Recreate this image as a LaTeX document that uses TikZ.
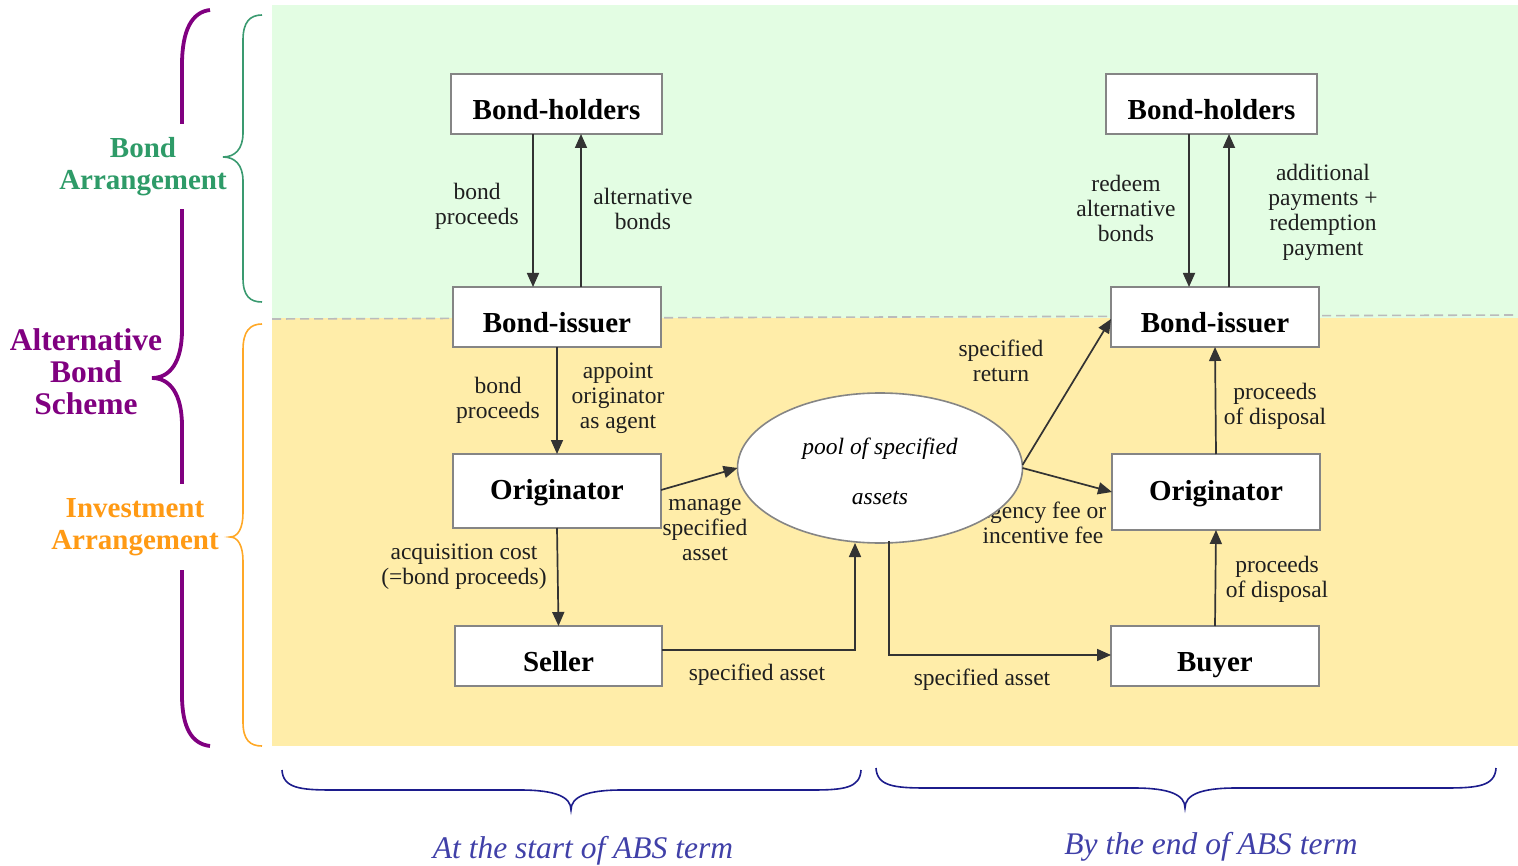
\documentclass[tikz,border=0pt]{standalone}
\usepackage{fontspec}
\setmainfont{Liberation Serif}
\usetikzlibrary{shapes.geometric,arrows.meta,calc}
\definecolor{bggreen}{HTML}{E3FDE3}
\definecolor{bgyellow}{HTML}{FFEDA9}
\definecolor{boxgray}{HTML}{858585}
\definecolor{arrgray}{HTML}{333333}
\definecolor{txtgreen}{HTML}{2E9B68}
\definecolor{bracegreen}{HTML}{3A9A70}
\definecolor{txtorange}{HTML}{FF9A14}
\definecolor{braceorange}{HTML}{FFA826}
\definecolor{purp}{HTML}{800080}
\definecolor{navy}{HTML}{1C1C8C}
\definecolor{txtblue}{HTML}{4040A8}
\definecolor{dashgray}{HTML}{BBBBBB}
\tikzset{
  box/.style={draw=boxgray, line width=1.6pt, fill=white, font=\fontsize{29}{32}\selectfont\bfseries, inner sep=0pt, outer sep=0pt, text=black, text height=31pt, text depth=0pt},
  tallbox/.style={box, text height=20pt, text depth=3pt},
  lbl/.style={font=\fontsize{23.5}{25}\selectfont, align=center, inner sep=0pt, text=black!88, yshift=-2.5pt},
  arr/.style={draw=arrgray, line width=1.7pt, -{Triangle[length=14pt,width=12pt]}},
  sidelbl/.style={font=\fontsize{29}{32}\selectfont\bfseries, align=center, inner sep=0pt},
  bottomlbl/.style={font=\fontsize{31.5}{34}\selectfont\itshape, text=txtblue, inner sep=0pt},
}
\begin{document}
\begin{tikzpicture}[x=1pt,y=-1pt]
\useasboundingbox (0,0) rectangle (1518,866);
% backgrounds
\fill[bggreen] (272,5) rectangle (1518,318);
\fill[bgyellow] (272,318) rectangle (1518,746);
\draw[dashgray, line width=1.6pt, dash pattern=on 9pt off 5pt] (272,319) -- (1518,315);

% purple brace (behind white label boxes)
\draw[purp, line width=3.8pt] (210,10) .. controls (192,12) and (182,30) .. (182,65) -- (182,330)
  .. controls (182,362) and (170,378) .. (152,378)
  .. controls (170,378) and (182,394) .. (182,426) -- (182,695)
  .. controls (182,728) and (192,744) .. (210,746);
\node[sidelbl, text=txtgreen, fill=white, inner ysep=13pt, inner xsep=6pt] (bondarr) at (143,166.5) {Bond\\Arrangement};
\node[sidelbl, text=txtorange, fill=white, inner ysep=14pt, inner xsep=6pt] (invarr) at (135,527) {Investment\\Arrangement};
\node[sidelbl, text=purp, font=\fontsize{31.5}{32}\selectfont\bfseries] (altbond) at (86,372) {Alternative\\Bond\\Scheme};

% green brace
\draw[bracegreen, line width=1.6pt] (262,15) .. controls (250,15) and (243,22) .. (243,40) -- (243,133)
  .. controls (243,149) and (235,157) .. (223,157)
  .. controls (235,157) and (243,165) .. (243,181) -- (243,278)
  .. controls (243,296) and (250,302) .. (262,302);
% orange brace
\draw[braceorange, line width=1.6pt] (262,324) .. controls (250,324) and (243,331) .. (243,350) -- (243,513)
  .. controls (243,528) and (238,537) .. (230,537)
  .. controls (238,537) and (243,546) .. (243,561) -- (243,722)
  .. controls (243,740) and (250,746) .. (262,746);

% bottom braces
\draw[navy, line width=1.6pt] (282,770) .. controls (283,788) and (300,790) .. (332,790) -- (520,790)
  .. controls (556,790) and (571,797) .. (571,810)
  .. controls (571,797) and (586,790) .. (622,790) -- (812,790)
  .. controls (844,790) and (860,788) .. (861,770);
\draw[navy, line width=1.6pt] (876,768) .. controls (877,786) and (894,788) .. (926,788) -- (1134,788)
  .. controls (1170,788) and (1185,795) .. (1185,808)
  .. controls (1185,795) and (1200,788) .. (1236,788) -- (1446,788)
  .. controls (1478,788) and (1495,786) .. (1496,768);
\node[bottomlbl] (startlbl) at (583,851) {At the start of ABS term};
\node[bottomlbl] (endlbl) at (1211,847) {By the end of ABS term};

% edge labels
\node[lbl] (l1) at (477,204) {bond\\proceeds};
\node[lbl] (l2) at (643,206) {alternative\\bonds};
\node[lbl] (l3) at (498,398) {bond\\proceeds};
\node[lbl] (l4) at (618,396) {appoint\\originator\\as agent};
\node[lbl] (l5) at (464,564) {acquisition cost\\(=bond proceeds)};
\node[lbl] (l6) at (705,527) {manage\\specified\\asset};
\node[lbl] (l7) at (757,672) {specified asset};
\node[lbl] (l8) at (982,677) {specified asset};
\node[lbl] (l9) at (1001,358) {specified\\return};
\node[lbl] (l10) at (1043,520) {agency fee or\\incentive fee};
\node[lbl] (l11) at (1275,404) {proceeds\\of disposal};
\node[lbl] (l12) at (1277,577) {proceeds\\of disposal};
\node[lbl] (l13) at (1126,206) {redeem\\alternative\\bonds};
\node[lbl] (l14) at (1323,210) {additional\\payments +\\redemption\\payment};

% ellipse
\node[ellipse, draw=boxgray, line width=1.6pt, fill=white, minimum width=285pt, minimum height=150pt, inner sep=0pt, outer sep=0pt, align=center, font=\fontsize{23.5}{24.5}\selectfont\itshape] (pool) at (880,468) {\rule{0pt}{23pt}pool of specified\\[26pt]assets};

% boxes
\node[box, minimum width=211pt, minimum height=60pt] (bhL) at (556.5,104) {Bond-holders};
\node[box, minimum width=208pt, minimum height=60pt] (biL) at (557,317) {Bond-issuer};
\node[tallbox, minimum width=208pt, minimum height=74pt] (orL) at (557,491) {Originator};
\node[box, minimum width=207pt, minimum height=60pt] (seL) at (558.5,656) {Seller};
\node[box, minimum width=211pt, minimum height=60pt] (bhR) at (1211.5,104) {Bond-holders};
\node[box, minimum width=208pt, minimum height=60pt] (biR) at (1215,317) {Bond-issuer};
\node[tallbox, minimum width=208pt, minimum height=76pt] (orR) at (1216,492) {Originator};
\node[box, minimum width=208pt, minimum height=60pt] (buR) at (1215,656) {Buyer};

% arrows
\draw[arr] ([xshift=-23.5pt]bhL.south) -- ([xshift=-23.5pt]bhL.south |- biL.north);
\draw[arr] ([xshift=24.5pt]bhL.south |- biL.north) -- ([xshift=24.5pt]bhL.south);
\draw[arr] (biL.south) -- (orL.north);
\draw[arr] (orL.south) -- (seL.north);
\draw[arr] ([yshift=1pt]orL.east) -- (pool.west);
\draw[arr] ([yshift=6pt]seL.east) -| ([xshift=-25pt]pool.south);
\draw[arr] ([xshift=9pt,yshift=2pt]pool.south) |- ([yshift=1pt]buR.west);
\draw[arr] ([yshift=3pt]pool.east) -- ([yshift=-2pt]biR.west);
\draw[arr] (pool.east) -- (orR.west);
\draw[arr] (buR.north) -- (orR.south);
\draw[arr] (orR.north) -- (biR.south);
\draw[arr] ([xshift=-22.5pt]bhR.south) -- ([xshift=-22.5pt]bhR.south |- biR.north);
\draw[arr] ([xshift=17.5pt]bhR.south |- biR.north) -- ([xshift=17.5pt]bhR.south);
\end{tikzpicture}
\end{document}
